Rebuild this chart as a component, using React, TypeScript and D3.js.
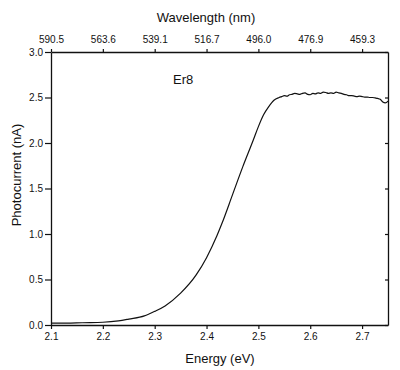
import { useEffect, useRef } from 'react';
import * as d3 from 'd3';

const energy = [
  2.10, 2.13, 2.16, 2.20, 2.23, 2.25, 2.28, 2.30, 2.32, 2.35, 2.38, 2.40, 2.42, 2.43,
  2.45, 2.47, 2.49, 2.50, 2.51, 2.52, 2.53, 2.54, 2.545, 2.55, 2.555, 2.56, 2.565, 2.57,
  2.575, 2.58, 2.585, 2.59, 2.595, 2.60, 2.605, 2.61, 2.615, 2.62, 2.625, 2.63, 2.635,
  2.64, 2.645, 2.65, 2.655, 2.66, 2.665, 2.67, 2.675, 2.68, 2.685, 2.69, 2.695, 2.70,
  2.705, 2.71, 2.715, 2.72, 2.725, 2.73, 2.735, 2.74, 2.745, 2.75,
];

const photocurrent = [
  0.02, 0.02, 0.025, 0.03, 0.045, 0.065, 0.10, 0.15, 0.21, 0.35, 0.55, 0.74, 0.98, 1.12,
  1.43, 1.74, 2.03, 2.18, 2.31, 2.40, 2.47, 2.50, 2.51, 2.52, 2.515, 2.53, 2.535, 2.545,
  2.54, 2.535, 2.545, 2.55, 2.535, 2.53, 2.545, 2.54, 2.55, 2.545, 2.56, 2.555, 2.545,
  2.55, 2.545, 2.56, 2.55, 2.545, 2.535, 2.53, 2.52, 2.52, 2.515, 2.51, 2.515, 2.51,
  2.505, 2.505, 2.50, 2.50, 2.495, 2.49, 2.48, 2.45, 2.44, 2.46,
];

const energyTicks = [2.1, 2.2, 2.3, 2.4, 2.5, 2.6, 2.7];
const wavelengthLabels = ['590.5', '563.6', '539.1', '516.7', '496.0', '476.9', '459.3'];
const currentTicks = [0, 0.5, 1.0, 1.5, 2.0, 2.5, 3.0];

export default function App() {
  const ref = useRef<SVGSVGElement>(null);

  useEffect(() => {
    const svg = d3.select(ref.current);
    svg.selectAll('*').remove();

    const left = 51, right = 388, top = 52, bottom = 325;
    const font = 'Liberation Sans, Arial, sans-serif';

    const x = d3.scaleLinear().domain([2.1, 2.75]).range([left, right]);
    const y = d3.scaleLinear().domain([0, 3]).range([bottom, top]);

    const styleAxis = (g: any) => {
      g.select('.domain').attr('stroke', '#111').attr('stroke-width', 1.3);
      g.selectAll('.tick line').attr('stroke', '#111').attr('stroke-width', 1.2);
      g.selectAll('.tick text').attr('font-family', font).attr('font-size', 10).attr('fill', '#111');
    };

    // bottom: energy
    svg.append('g')
      .attr('transform', `translate(0,${bottom})`)
      .call(d3.axisBottom(x).tickValues(energyTicks).tickFormat(d3.format('.1f')).tickSize(4).tickSizeOuter(0).tickPadding(4))
      .call(styleAxis);

    // top: wavelength labels at the same energies
    svg.append('g')
      .attr('transform', `translate(0,${top})`)
      .call(d3.axisTop(x).tickValues(energyTicks).tickFormat((_d, i) => wavelengthLabels[i]).tickSize(3).tickSizeOuter(0).tickPadding(6))
      .call(styleAxis);

    // left: photocurrent
    svg.append('g')
      .attr('transform', `translate(${left},0)`)
      .call(d3.axisLeft(y).tickValues(currentTicks).tickFormat(d3.format('.1f')).tickSize(6).tickSizeOuter(0).tickPadding(2))
      .call(styleAxis);

    // right frame
    svg.append('g')
      .attr('transform', `translate(${right},0)`)
      .call(d3.axisLeft(y).tickValues(currentTicks).tickFormat(() => '').tickSize(3).tickSizeOuter(0))
      .call(styleAxis);

    const line = d3.line<number>()
      .x((_d, i) => x(energy[i]))
      .y(d => y(d))
      .curve(d3.curveMonotoneX);

    svg.append('path')
      .datum(photocurrent)
      .attr('fill', 'none')
      .attr('stroke', '#111')
      .attr('stroke-width', 1.2)
      .attr('d', line);

    const label = (t: string, px: number, py: number, size: number, anchor = 'middle', rotate = false) =>
      svg.append('text')
        .attr('x', rotate ? 0 : px)
        .attr('y', rotate ? 0 : py)
        .attr('transform', rotate ? `translate(${px},${py}) rotate(-90)` : null)
        .attr('text-anchor', anchor)
        .attr('font-family', font)
        .attr('font-size', size)
        .attr('fill', '#111')
        .text(t);

    label('Wavelength (nm)', 206, 22, 13);
    label('Energy (eV)', 220, 363, 13);
    label('Photocurrent (nA)', 21, 175, 13, 'middle', true);
    label('Er8', 173, 84, 13, 'start');
  }, []);

  return (
    <svg
      ref={ref}
      width={400}
      height={370}
      style={{ position: 'absolute', left: 0, top: 0, background: '#fff' }}
    />
  );
}
